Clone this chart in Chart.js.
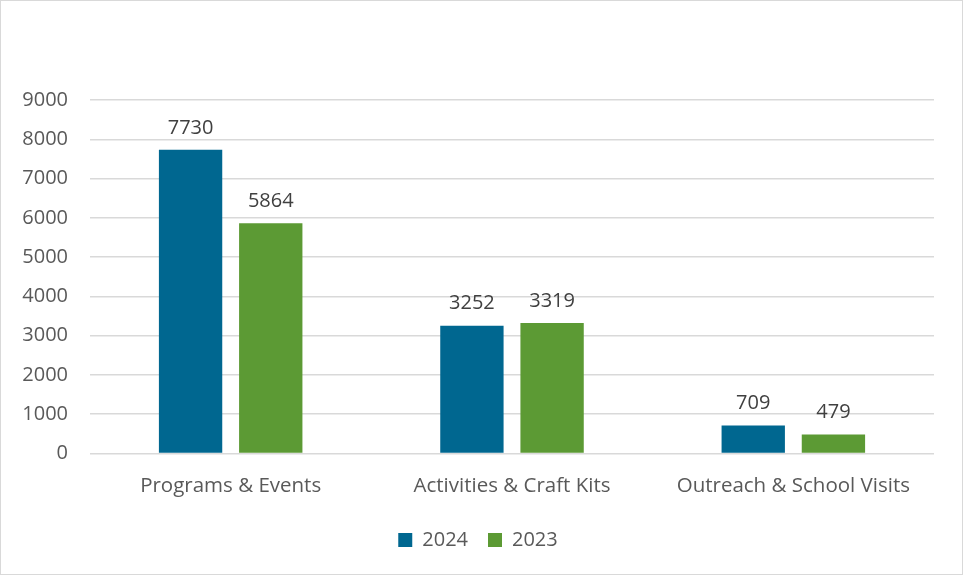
<!DOCTYPE html>
<html>
<head>
<meta charset="utf-8">
<script src="https://cdn.jsdelivr.net/npm/chart.js@4"></script>
<style>
  body { margin: 0; background: #fff; }
  .frame { width: 963px; height: 575px; box-sizing: border-box; border: 1px solid #d9d9d9; position: relative; }
  canvas { display: block; }
</style>
</head>
<body>
<div class="frame"><canvas class="bar-chart" width="961" height="573"></canvas></div>
<script>
const categories = ['Programs & Events', 'Activities & Craft Kits', 'Outreach & School Visits'];
const values2024 = [7730, 3252, 709];
const values2023 = [5864, 3319, 479];
const yTicks = [0, 1000, 2000, 3000, 4000, 5000, 6000, 7000, 8000, 9000];

const fontFamily = '"Open Sans", sans-serif';

const valueLabels = {
  id: 'valueLabels',
  afterDatasetsDraw(chart) {
    const ctx = chart.ctx;
    ctx.save();
    ctx.font = '20px ' + fontFamily;
    ctx.fillStyle = '#404040';
    ctx.textAlign = 'center';
    ctx.textBaseline = 'bottom';
    chart.data.datasets.forEach((ds, i) => {
      chart.getDatasetMeta(i).data.forEach((bar, j) => {
        ctx.fillText(ds.data[j], bar.x, bar.y - 12);
      });
    });
    ctx.restore();
  },
};

const barChart = document.querySelector('.bar-chart');
new Chart(barChart, {
  type: 'bar',
  data: {
    labels: categories,
    datasets: [
      {
        label: '2024',
        data: values2024,
        backgroundColor: '#006790',
        barPercentage: 0.79,
        categoryPercentage: 0.57,
      },
      {
        label: '2023',
        data: values2023,
        backgroundColor: '#5C9A34',
        barPercentage: 0.79,
        categoryPercentage: 0.57,
      },
    ],
  },
  options: {
    responsive: false,
    animation: false,
    layout: { padding: { top: 99, left: 21, right: 28, bottom: 14 } },
    plugins: {
      legend: {
        position: 'bottom',
        labels: {
          boxWidth: 14,
          boxHeight: 14,
          padding: 20,
          color: '#595959',
          font: { size: 20, family: fontFamily },
        },
      },
      tooltip: { enabled: false },
    },
    scales: {
      x: {
        grid: { display: false },
        border: { display: false },
        ticks: { color: '#595959', font: { size: 20.5, family: fontFamily }, padding: 12 },
      },
      y: {
        min: 0,
        max: 9000,
        afterBuildTicks: (axis) => { axis.ticks = yTicks.map((v) => ({ value: v })); },
        afterFit: (axis) => { axis.width = 68; },
        grid: { color: '#d9d9d9', lineWidth: 1.5, drawTicks: false },
        border: { display: false },
        ticks: {
          color: '#595959',
          font: { size: 20, family: fontFamily },
          padding: 22,
          callback: (v) => String(v),
        },
      },
    },
  },
  plugins: [valueLabels],
});
</script>
</body>
</html>
